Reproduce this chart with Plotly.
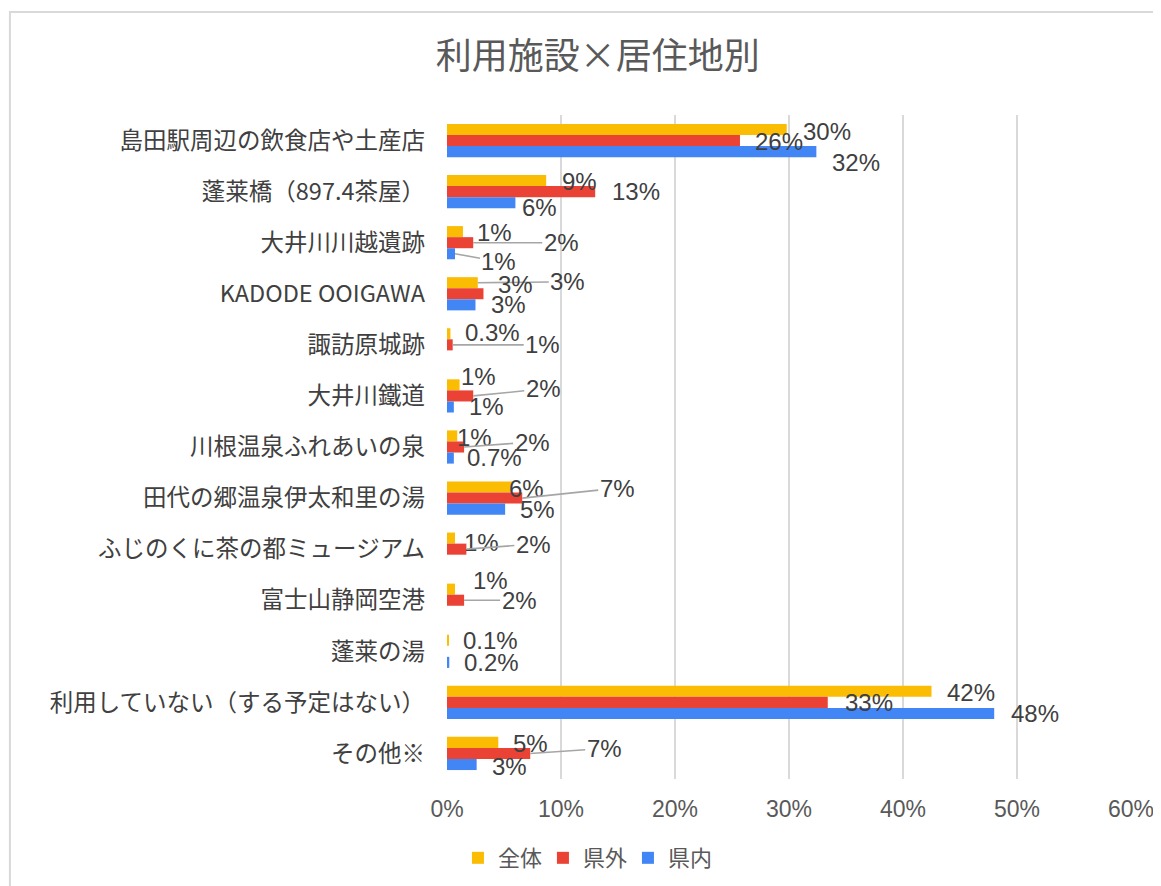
import plotly.graph_objects as go

categories = [
    "島田駅周辺の飲食店や土産店",
    "蓬莱橋（897.4茶屋）",
    "大井川川越遺跡",
    "KADODE OOIGAWA",
    "諏訪原城跡",
    "大井川鐵道",
    "川根温泉ふれあいの泉",
    "田代の郷温泉伊太和里の湯",
    "ふじのくに茶の都ミュージアム",
    "富士山静岡空港",
    "蓬莱の湯",
    "利用していない（する予定はない）",
    "その他※",
]

series_names = ["全体", "県外", "県内"]

values_all = [29.8, 8.7, 1.4, 2.7, 0.3, 1.1, 0.9, 5.7, 0.7, 0.7, 0.1, 42.5, 4.5]
values_out = [25.7, 13.0, 2.3, 3.2, 0.5, 2.3, 1.5, 6.6, 1.7, 1.5, 0.0, 33.4, 7.3]
values_in = [32.4, 6.0, 0.7, 2.5, 0.0, 0.6, 0.6, 5.1, 0.0, 0.0, 0.2, 48.0, 2.6]

labels_all = ["30%", "9%", "1%", "3%", "0.3%", "1%", "1%", "6%", "1%", "1%", "0.1%", "42%", "5%"]
labels_out = ["26%", "13%", "2%", "3%", "1%", "2%", "2%", "7%", "2%", "2%", "", "33%", "7%"]
labels_in = ["32%", "6%", "1%", "3%", "", "1%", "0.7%", "5%", "", "", "0.2%", "48%", "3%"]

x_ticks = [0, 10, 20, 30, 40, 50, 60]
x_tick_labels = ["0%", "10%", "20%", "30%", "40%", "50%", "60%"]

# ---- styling (not data) ----
colors = ["#FBBC04", "#EA4335", "#4285F4"]
bar_offset_px = [-11, 0, 11]  # vertical pixel offset of each series bar from row centre
# data-label placement (pixel offset of label centre from bar end / row centre, leader line flag)
label_style_all = [(40, -9, 0), (33, -10, 0), (32, -10, 0), (90, -12, 1), (42, -12, 0), (19, -19, 0),
                   (17, -10, 0), (15, -10, 0), (27, -7, 0), (36, -20, 0), (42, -11, 0), (39, -10, 0),
                   (32, -10, 0)]
label_style_out = [(39, 1, 0), (41, 0, 0), (88, 0, 1), (32, -9, 0), (90, 0, 1), (70, -7, 1),
                   (68, -5, 1), (95, -10, 1), (67, -5, 1), (55, 0, 1), (0, 0, 0), (41, 0, 0),
                   (74, -5, 1)]
label_style_in = [(40, 22, 0), (24, 16, 0), (44, 19, 1), (33, 11, 0), (0, 0, 0), (33, 11, 0),
                  (41, 10, 0), (32, 11, 0), (0, 0, 0), (0, 0, 0), (42, 11, 0), (41, 11, 0),
                  (33, 13, 0)]

latin_font = "Liberation Sans, Arial, sans-serif"
cjk_font = "Noto Sans CJK JP, sans-serif"

fig = go.Figure()
annotations = []
for si, (name, vals, labs, col, styles) in enumerate(zip(
        series_names,
        [values_all, values_out, values_in],
        [labels_all, labels_out, labels_in],
        colors,
        [label_style_all, label_style_out, label_style_in])):
    fig.add_trace(go.Bar(
        name=name,
        y=categories,
        x=vals,
        orientation="h",
        marker=dict(color=col, line=dict(width=0)),
        hoverinfo="x+y+name",
    ))
    off = bar_offset_px[si]
    for cat, v, lab, (dx, dy, leader) in zip(categories, vals, labs, styles):
        if not lab:
            continue
        annotations.append(dict(
            x=v, y=cat, xref="x", yref="y",
            text=lab,
            showarrow=True,
            arrowhead=0,
            arrowwidth=1.6,
            arrowcolor="#A6A6A6" if leader else "rgba(0,0,0,0)",
            standoff=0,
            ax=dx, ay=dy - off,
            yshift=-off,
            font=dict(size=24, color="#404040", family=latin_font),
        ))

fig.update_layout(
    width=1161,
    height=886,
    barmode="group",
    bargap=0.35,
    bargroupgap=0,
    paper_bgcolor="white",
    plot_bgcolor="white",
    font=dict(family=latin_font, color="#595959"),
    title=dict(
        text="利用施設×居住地別",
        x=0.508,
        xanchor="center",
        y=0.945,
        yanchor="middle",
        font=dict(size=36, color="#595959", family=cjk_font),
    ),
    margin=dict(l=439, r=38, t=107, b=115, autoexpand=False),
    legend=dict(
        orientation="h",
        x=0.016,
        xanchor="left",
        y=-0.119,
        yanchor="middle",
        font=dict(size=22, color="#595959", family=cjk_font),
        itemwidth=30,
        entrywidth=40,
        entrywidthmode="pixels",
        traceorder="normal",
    ),
    showlegend=True,
    annotations=annotations,
    shapes=[dict(
        type="rect", xref="paper", yref="paper",
        x0=-0.639, x1=1.08, y0=-0.2, y1=1.155,
        line=dict(color="#D9D9D9", width=2),
        fillcolor="rgba(0,0,0,0)",
        layer="below",
    )],
)

fig.update_xaxes(
    range=[0, 60],
    tickvals=x_ticks,
    ticktext=x_tick_labels,
    showgrid=True,
    gridcolor="#D9D9D9",
    gridwidth=2,
    zeroline=False,
    showline=False,
    tickfont=dict(size=23, color="#595959", family=latin_font),
    ticks="",
    ticklabelstandoff=14,
    automargin=False,
)
fig.update_yaxes(
    range=[len(categories) - 0.5, -0.5],
    showgrid=False,
    zeroline=False,
    showline=False,
    tickfont=dict(size=23.5, color="#404040", family=cjk_font),
    ticks="",
    ticklabelstandoff=21,
    automargin=False,
)

fig.write_html("out.html")
